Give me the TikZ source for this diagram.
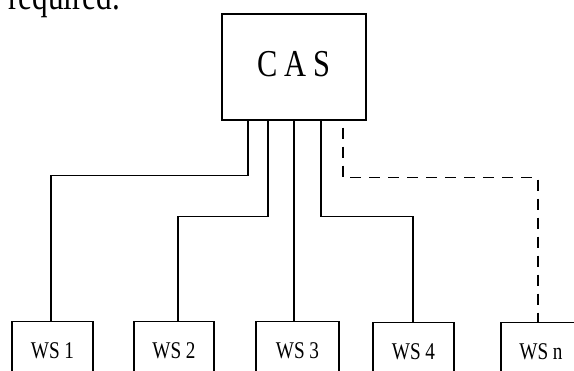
\documentclass[tikz,border=0pt]{standalone}
\usepackage{fontspec}
\newfontfamily\serstretch[FakeStretch=0.8]{Liberation Serif}
\begin{document}
\begin{tikzpicture}[x=1pt,y=-1pt,
  box/.style={draw, line width=1.2pt, rectangle, inner xsep=0pt},
  wsbox/.style={box, anchor=north, minimum width=81pt, inner ysep=21pt,
    text height=16pt, text depth=0pt, font=\serstretch\fontsize{24}{24}\selectfont},
  link/.style={line width=1.1pt},
  dlink/.style={line width=1.1pt, dash pattern=on 11pt off 8pt, dash phase=-7pt}]
\useasboundingbox (0,0) rectangle (574,371);
\clip (0,0) rectangle (574,371);
\node[anchor=base west, inner sep=0pt, font=\serstretch\fontsize{39}{39}\selectfont] (req) at (8,10) {required.};
\node[box, minimum width=144pt, minimum height=106pt, text height=25pt, text depth=5pt,
  font=\serstretch\fontsize{38}{38}\selectfont] (CAS) at (294,67) {C\kern7pt A\kern7pt S};
\node[wsbox] (WS1) at (52.5,321) {WS 1};
\node[wsbox, minimum width=80pt] (WS2) at (174,321) {WS 2};
\node[wsbox, minimum width=83pt] (WS3) at (297.5,321) {WS 3};
\node[wsbox] (WS4) at (413.5,322) {WS 4};
\node[wsbox, minimum width=80pt] (WSn) at (541,322) {WS n};
\draw[link] ([xshift=-46pt]CAS.south) -- ++(0,55) -| ([xshift=-1.5pt]WS1.north);
\draw[link] ([xshift=-26pt]CAS.south) -- ++(0,96) -| ([xshift=4pt]WS2.north);
\draw[link] (CAS.south) -- (CAS.south |- WS3.north);
\draw[link] ([xshift=27pt]CAS.south) -- ++(0,96) -| ([xshift=-0.5pt]WS4.north);
\draw[dlink] ([xshift=49pt]CAS.south) -- ++(0,57) -| ([xshift=-3pt]WSn.north);
\end{tikzpicture}
\end{document}
